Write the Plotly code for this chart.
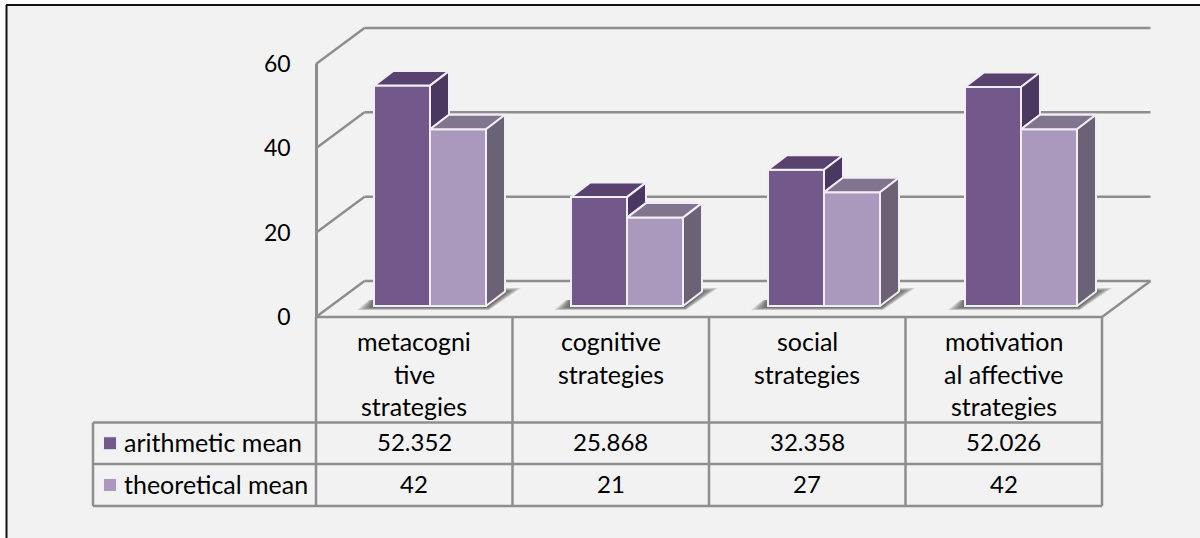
import plotly.graph_objects as go

# ---- data ----
categories = [
    ["metacogni", "tive", "strategies"],
    ["cognitive", "strategies"],
    ["social", "strategies"],
    ["motivation", "al affective", "strategies"],
]
series_names = ["arithmetic mean", "theoretical mean"]
arithmetic_mean = [52.352, 25.868, 32.358, 52.026]
theoretical_mean = [42, 21, 27, 42]
axis_ticks = [0, 20, 40, 60]

# ---- style ----
W, H = 1200, 538
FONT = "Lato"
FS_LABEL = 25
FS_NUM = 24
FS_TICK = 23
TXT = "#000000"
GRID = "#8E8E8E"
BG = "#F2F2F2"
EDGE = "#F1EEF5"
COLORS = [
    dict(front="#73588C", top="#5A426E", side="#4A3860"),
    dict(front="#AA99BC", top="#80748F", side="#6C6276"),
]

# ---- geometry of the pseudo-3D scene, in pixels ----
PX_PER_UNIT = 4.21
BAR_BASE_PY = 306
GROUP_C0 = 430
SLOT = 197
BAR_W = 56
DEPTH_BAR = (19, 14.5)
WALL_L, WALL_R, WALL_BOTTOM = 316, 1102, 317
DEPTH_WALL = (48.5, 36)
TABLE_L = 93
ROWS = [317, 422.5, 464, 506]
COLS = [316, 512.5, 709, 905.5, 1102]


def X(px):
    return (px - GROUP_C0) / SLOT


def YV(py):
    return (BAR_BASE_PY - py) / PX_PER_UNIT


def PX(px):
    return px / W


def PY(py):
    return 1 - py / H


wall_scale = (WALL_BOTTOM - 64) / axis_ticks[-1]


def wall_py(v):
    return WALL_BOTTOM - v * wall_scale


fig = go.Figure()
shapes = []
annots = []


def line(x0, y0, x1, y1, color=GRID, width=2.5, layer="below", ref="paper"):
    if ref == "paper":
        d = dict(x0=PX(x0), x1=PX(x1), y0=PY(y0), y1=PY(y1), xref="paper", yref="paper")
    else:
        d = dict(x0=X(x0), x1=X(x1), y0=YV(y0), y1=YV(y1), xref="x", yref="y")
    shapes.append(dict(type="line", line=dict(color=color, width=width), layer=layer, **d))


# background and frame
shapes.append(dict(type="rect", xref="paper", yref="paper", x0=PX(6), x1=1, y0=0, y1=PY(5),
                   fillcolor=BG, line=dict(width=0), layer="below"))
line(6.5, 5, 6.5, H, color="#111111", width=2, layer="above")
line(6, 5, W, 5, color="#111111", width=2, layer="above")

# walls, gridlines and floor (behind the bars)
dx, dy = DEPTH_WALL
for v in axis_ticks:
    y = wall_py(v)
    line(WALL_L, y, WALL_L + dx, y - dy, ref="data")
    line(WALL_L + dx, y - dy, WALL_R + dx, y - dy, ref="data")
line(WALL_L, WALL_BOTTOM, WALL_R, WALL_BOTTOM, ref="data")
line(WALL_R, WALL_BOTTOM, WALL_R + dx, WALL_BOTTOM - dy, ref="data")

# soft floor shadows
for i in range(len(categories)):
    L = GROUP_C0 + SLOT * i - BAR_W
    R = GROUP_C0 + SLOT * i + BAR_W
    steps = 8
    for s in range(steps):
        t = s / (steps - 1)
        pts = [
            (L - 17 * (1 - t), 310 - 3 * t),
            (R + 3 - 2 * t, 310 - 3 * t),
            (R + 35 - 16 * t, 288 + 4 * t),
            (R + 17, 288 + 4 * t),
            (R, 300),
            (L - 5 * (1 - t), 300),
        ]
        path = "M " + " L ".join(f"{X(a):.5f},{YV(b):.5f}" for a, b in pts) + " Z"
        shapes.append(dict(type="path", path=path, xref="x", yref="y", layer="below",
                           fillcolor="rgba(50,50,50,0.15)", line=dict(width=0)))

# front faces
vals = [arithmetic_mean, theoretical_mean]
for k, (name, v) in enumerate(zip(series_names, vals)):
    fig.add_trace(go.Bar(
        x=list(range(len(v))), y=v, name=name,
        width=BAR_W / SLOT,
        offset=(k - 1) * BAR_W / SLOT,
        marker=dict(color=COLORS[k]["front"], line=dict(color=EDGE, width=2)),
        showlegend=False, cliponaxis=False,
    ))


def face(xs, ys, color):
    fig.add_trace(go.Scatter(
        x=xs, y=ys, mode="lines", fill="toself", fillcolor=color,
        line=dict(color=EDGE, width=2), showlegend=False, hoverinfo="skip",
    ))


ddx = DEPTH_BAR[0] / SLOT
ddy = DEPTH_BAR[1] / PX_PER_UNIT
w = BAR_W / SLOT
for i in range(len(categories)):
    a, b = arithmetic_mean[i], theoretical_mean[i]
    # arithmetic bar: top, and the part of its side above the neighbouring bar
    face([i - w, i, i + ddx, i - w + ddx, i - w], [a, a, a + ddy, a + ddy, a], COLORS[0]["top"])
    face([i, i + ddx, i + ddx, i, i], [a, a + ddy, b + ddy, b, a], COLORS[0]["side"])
    # theoretical bar: top and side
    face([i, i + w, i + w + ddx, i + ddx, i], [b, b, b + ddy, b + ddy, b], COLORS[1]["top"])
    face([i + w, i + w + ddx, i + w + ddx, i + w, i + w], [b, b + ddy, ddy, 0, b], COLORS[1]["side"])

# data table
for x in COLS:
    line(x, ROWS[0], x, ROWS[-1])
for y in ROWS[1:]:
    line(TABLE_L, y, COLS[-1], y)
line(TABLE_L, ROWS[1], TABLE_L, ROWS[-1])


def text(px, py, s, anchor="center", size=FS_LABEL):
    annots.append(dict(x=PX(px), y=PY(py), xref="paper", yref="paper", text=s, showarrow=False,
                       xanchor=anchor, yanchor="middle", font=dict(family=FONT, size=size, color=TXT)))


LINE_Y = [341, 373.5, 405.5]
for c, lines in enumerate(categories):
    cx = (COLS[c] + COLS[c + 1]) / 2
    for ln, py in zip(lines, LINE_Y):
        text(cx, py, ln)

for r, (name, v) in enumerate(zip(series_names, vals)):
    cy = (ROWS[r + 1] + ROWS[r + 2]) / 2
    shapes.append(dict(type="rect", xref="paper", yref="paper", x0=PX(103.5), x1=PX(116.5),
                       y0=PY(cy - 6.5), y1=PY(cy + 6.5), fillcolor=COLORS[r]["front"],
                       line=dict(color=EDGE, width=1), layer="above"))
    text(122, cy - 1.5, name, anchor="left")
    for c, val in enumerate(v):
        text((COLS[c] + COLS[c + 1]) / 2, cy - 1.5, f"{val:g}", size=FS_NUM)

# invisible trace that carries the value axis
fig.add_trace(go.Scatter(x=[0, 0], y=[axis_ticks[0], axis_ticks[-1]], yaxis="y2", mode="none",
                         showlegend=False, hoverinfo="skip"))

fig.update_layout(
    template=None,
    width=W, height=H, autosize=False,
    margin=dict(l=0, r=0, t=0, b=0),
    paper_bgcolor="white", plot_bgcolor="rgba(0,0,0,0)",
    barmode="overlay", showlegend=False, hovermode=False,
    shapes=shapes, annotations=annots,
    xaxis=dict(range=[X(0), X(W)], domain=[0, 1], visible=False, fixedrange=True, automargin=False),
    yaxis=dict(range=[YV(H), YV(0)], domain=[0, 1], visible=False, fixedrange=True, automargin=False),
    yaxis2=dict(
        anchor="free", position=PX(WALL_L), side="left",
        domain=[PY(WALL_BOTTOM), PY(wall_py(axis_ticks[-1]))],
        range=[axis_ticks[0], axis_ticks[-1]], tickvals=axis_ticks, showgrid=False, zeroline=False,
        showline=True, linecolor=GRID, linewidth=2.5, automargin=False,
        ticks="outside", ticklen=20, tickcolor="rgba(0,0,0,0)",
        tickfont=dict(family=FONT, size=FS_TICK, color=TXT), fixedrange=True,
    ),
)

fig.write_html(
    "out.html",
    config={"displayModeBar": False},
    post_script=(
        "document.body.style.margin='0';document.body.style.overflow='hidden';"
        "var s=document.createElement('style');"
        "s.textContent='svg text{font-variant-ligatures:none;}';"
        "document.head.appendChild(s);"
    ),
)
